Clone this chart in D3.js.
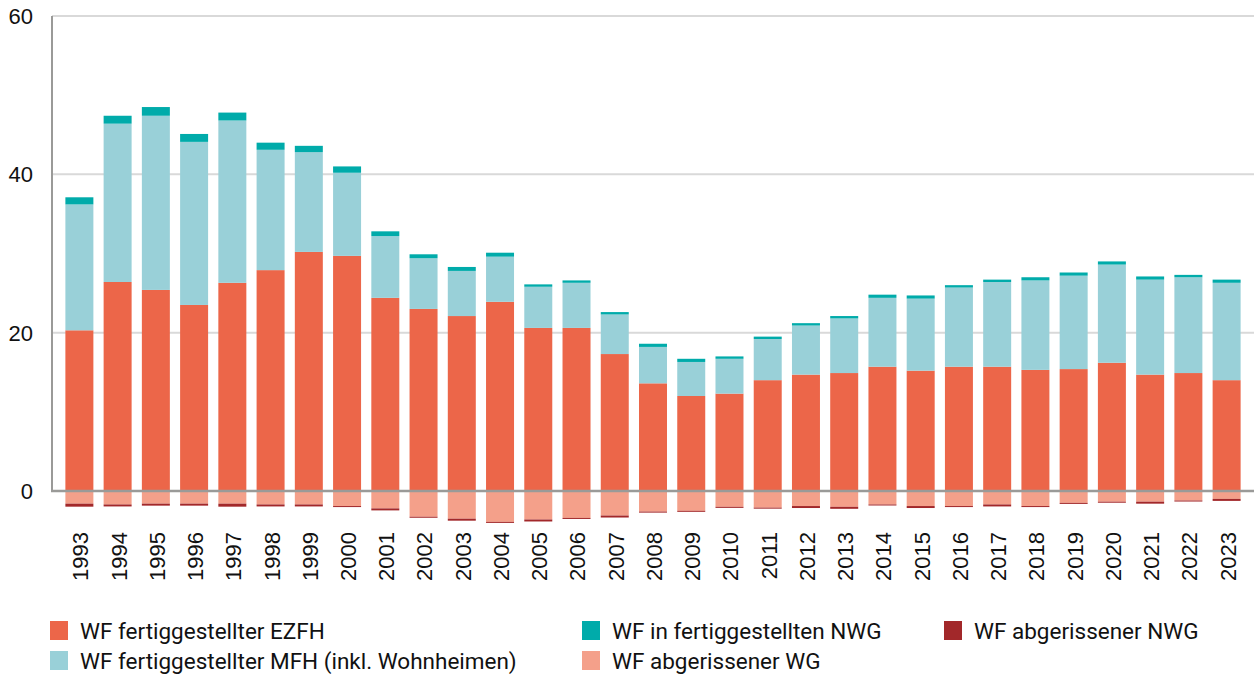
<!DOCTYPE html>
<html>
<head>
<meta charset="utf-8">
<script src="https://cdn.jsdelivr.net/npm/d3@7.9.0/dist/d3.min.js"></script>
<style>
  body { margin: 0; background: #fff; }
  svg { display: block; }
  .tick-label { font-family: "Liberation Sans", Arial, sans-serif; font-size: 22px; fill: #111; }
  .legend text { font-family: Roboto, sans-serif; font-size: 22.5px; fill: #111; }
</style>
</head>
<body>
<svg id="chart" width="1254" height="677"></svg>
<script>
// years on the x axis
const years = d3.range(1993, 2024).map(String);

// WF fertiggestellter EZFH
const ezfh = [20.3, 26.4, 25.4, 23.5, 26.3, 27.9, 30.2, 29.7, 24.4, 23.0, 22.1, 23.9, 20.6, 20.6, 17.3, 13.6,
  12.0, 12.3, 14.0, 14.7, 14.9, 15.7, 15.2, 15.7, 15.7, 15.3, 15.4, 16.2, 14.7, 14.9, 14.0];
// WF fertiggestellter MFH (inkl. Wohnheimen)
const mfh = [15.9, 20.0, 22.0, 20.6, 20.5, 15.2, 12.6, 10.5, 7.8, 6.4, 5.7, 5.7, 5.2, 5.7, 5.0, 4.6,
  4.3, 4.4, 5.2, 6.2, 6.9, 8.7, 9.1, 10.0, 10.7, 11.3, 11.8, 12.4, 12.0, 12.1, 12.3];
// WF in fertiggestellten NWG
const nwg = [0.9, 1.0, 1.1, 1.0, 1.0, 0.9, 0.8, 0.8, 0.6, 0.5, 0.5, 0.5, 0.3, 0.3, 0.3, 0.4,
  0.4, 0.3, 0.3, 0.3, 0.3, 0.4, 0.4, 0.3, 0.3, 0.4, 0.4, 0.4, 0.4, 0.3, 0.4];
// WF abgerissener WG (negative)
const abrWG = [-1.6, -1.7, -1.6, -1.6, -1.6, -1.7, -1.7, -1.9, -2.2, -3.25, -3.5, -3.9, -3.6, -3.4, -3.1, -2.6,
  -2.5, -2.0, -2.1, -1.9, -2.0, -1.7, -1.9, -1.9, -1.7, -1.9, -1.5, -1.35, -1.35, -1.2, -1.0];
// WF abgerissener NWG (negative)
const abrNWG = [-0.38, -0.25, -0.25, -0.25, -0.38, -0.25, -0.25, -0.13, -0.25, -0.13, -0.25, -0.13, -0.25, -0.13, -0.25, -0.13,
  -0.13, -0.13, -0.13, -0.25, -0.25, -0.13, -0.25, -0.13, -0.25, -0.13, -0.13, -0.13, -0.25, -0.13, -0.25];

const yTicks = [0, 20, 40, 60];

const keys = ['ezfh', 'mfh', 'nwg', 'abrWG', 'abrNWG'];
const labels = {
  ezfh: 'WF fertiggestellter EZFH',
  mfh: 'WF fertiggestellter MFH (inkl. Wohnheimen)',
  nwg: 'WF in fertiggestellten NWG',
  abrWG: 'WF abgerissener WG',
  abrNWG: 'WF abgerissener NWG'
};
const colors = {
  ezfh: '#ec6649',
  mfh: '#99d0d8',
  nwg: '#00abaa',
  abrWG: '#f4a08a',
  abrNWG: '#a2282a'
};

const rows = years.map((y, i) => ({
  year: y, ezfh: ezfh[i], mfh: mfh[i], nwg: nwg[i], abrWG: abrWG[i], abrNWG: abrNWG[i]
}));

const svg = d3.select('#chart');
const left = 52, right = 1254;

const x = d3.scaleBand().domain(years).range([left, right]).paddingInner(0.268).paddingOuter(0.35);
const y = d3.scaleLinear().domain([0, 60]).range([491, 16]);

// gridlines
svg.append('g')
  .selectAll('line')
  .data(yTicks.filter(d => d !== 0))
  .join('line')
  .attr('x1', left).attr('x2', right)
  .attr('y1', d => y(d)).attr('y2', d => y(d))
  .attr('stroke', '#d9d9d9').attr('stroke-width', 2);

// stacked bars
const series = d3.stack().keys(keys).offset(d3.stackOffsetDiverging)(rows);
svg.append('g')
  .selectAll('g')
  .data(series)
  .join('g')
  .attr('fill', d => colors[d.key])
  .selectAll('rect')
  .data(d => d)
  .join('rect')
  .attr('x', d => x(d.data.year))
  .attr('width', x.bandwidth())
  .attr('y', d => y(Math.max(d[0], d[1])))
  .attr('height', d => Math.abs(y(d[0]) - y(d[1])));

// y axis line and zero line
svg.append('line')
  .attr('x1', left).attr('x2', left).attr('y1', y(60)).attr('y2', y(0) + 1)
  .attr('stroke', '#9a9a98').attr('stroke-width', 2);
svg.append('line')
  .attr('x1', left - 1).attr('x2', right).attr('y1', y(0)).attr('y2', y(0))
  .attr('stroke', '#9a9a98').attr('stroke-width', 2.5);

// y tick labels
svg.append('g')
  .selectAll('text')
  .data(yTicks)
  .join('text')
  .attr('class', 'tick-label')
  .attr('x', 33)
  .attr('y', d => y(d))
  .attr('dy', '0.36em')
  .attr('text-anchor', 'end')
  .text(d => d);

// x tick labels (rotated)
svg.append('g')
  .selectAll('text')
  .data(years)
  .join('text')
  .attr('class', 'tick-label')
  .attr('text-anchor', 'end')
  .attr('transform', d => `translate(${x(d) + x.bandwidth() / 2 + 1},532) rotate(-90)`)
  .attr('dy', '0.36em')
  .text(d => d);

// legend
const legendItems = [
  { key: 'ezfh', x: 50, y: 621 },
  { key: 'mfh', x: 50, y: 651 },
  { key: 'nwg', x: 582, y: 621 },
  { key: 'abrWG', x: 582, y: 651 },
  { key: 'abrNWG', x: 944, y: 621 }
];
const lg = svg.append('g').attr('class', 'legend')
  .selectAll('g')
  .data(legendItems)
  .join('g')
  .attr('transform', d => `translate(${d.x},${d.y})`);
lg.append('rect').attr('width', 18).attr('height', 19).attr('fill', d => colors[d.key]);
lg.append('text').attr('x', 30).attr('y', 10).attr('dy', '0.36em').text(d => labels[d.key]);
</script>
</body>
</html>
